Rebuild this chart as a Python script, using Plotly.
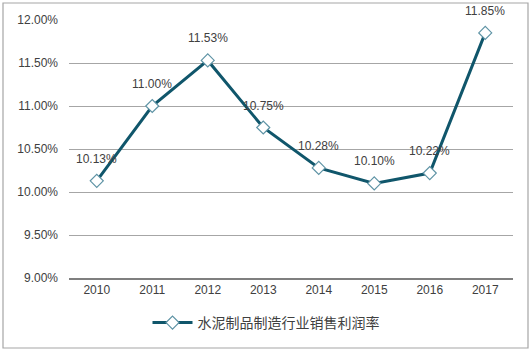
import plotly.graph_objects as go

years = ["2010", "2011", "2012", "2013", "2014", "2015", "2016", "2017"]
values = [10.13, 11.00, 11.53, 10.75, 10.28, 10.10, 10.22, 11.85]
series_name = "水泥制品制造行业销售利润率"

line_color = "#10566B"
marker_edge = "#5E93A5"

fig = go.Figure()
fig.add_trace(go.Scatter(
    x=years, y=values, name=series_name,
    mode="lines+markers",
    line=dict(color=line_color, width=3),
    marker=dict(symbol="diamond", size=10, color="white",
                line=dict(color=marker_edge, width=1.2)),
    cliponaxis=False,
))

for i, v in enumerate(values):
    fig.add_annotation(x=i, y=v, xref="x", yref="y", text=f"{v:.2f}%",
                       showarrow=False, yshift=22, yanchor="middle",
                       font=dict(family="Liberation Sans, Arial", size=12, color="#404040"))

# plot area pixel geometry
L, R, T, B = 69, 513, 20, 278
W, H = R - L, B - T

fig.update_layout(
    width=532, height=351,
    margin=dict(l=L, r=532 - R, t=T, b=351 - B),
    paper_bgcolor="white", plot_bgcolor="white",
    font=dict(family="Liberation Sans, Arial", size=12, color="#404040"),
    showlegend=True,
    legend=dict(orientation="h", x=(266 - L) / W, xanchor="center",
                y=(B - 323) / H, yanchor="middle",
                font=dict(family="Noto Sans CJK SC", size=14, color="#404040"),
                itemwidth=40),
    xaxis=dict(type="category", showgrid=False, showline=True,
               linecolor="#7F7F7F", linewidth=1.5, ticks="",
               tickfont=dict(size=12, color="#404040"),
               range=[-0.5, 7.5]),
    yaxis=dict(range=[9, 12], dtick=0.5, tickformat=".2f", ticksuffix="%",
               showgrid=True, gridcolor="#A6A6A6", gridwidth=1,
               zeroline=False, showline=False, ticks="",
               tickfont=dict(size=12, color="#404040"), ticklabelstandoff=10),
    shapes=[dict(type="rect", xref="paper", yref="paper",
                 x0=(3 - L) / W, x1=(528 - L) / W,
                 y0=(B - 348) / H, y1=(B - 3) / H,
                 line=dict(color="#A6A6A6", width=1.2), layer="below")],
)

fig.write_html("out.html")
